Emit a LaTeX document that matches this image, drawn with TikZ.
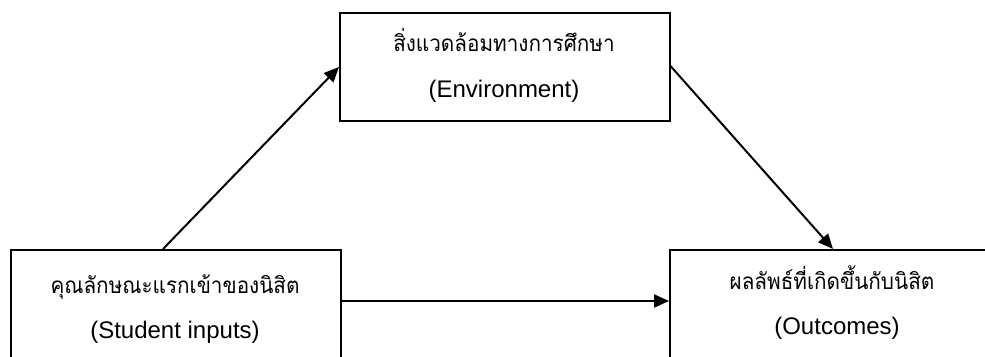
\documentclass[tikz,border=0pt]{standalone}
\usepackage{fontspec}
\setmainfont{Liberation Sans}
\newfontfamily\thaifont[Script=Thai]{Loma}
\usetikzlibrary{arrows.meta}
\begin{document}
\begin{tikzpicture}[x=1pt,y=-1pt,
  box/.style={draw,line width=1.5pt,rectangle,inner sep=0pt,anchor=north west},
  thaitxt/.style={font=\thaifont\fontsize{22.5}{27}\selectfont,anchor=base,inner sep=0pt,xscale=0.92},
  engtxt/.style={font=\fontsize{24}{29}\selectfont,anchor=base,inner sep=0pt},
  conn/.style={line width=2pt,-{Triangle[length=15pt,width=13pt]}}]
\useasboundingbox (0,0) rectangle (985,356);
\clip (0,0) rectangle (985,356);
\fill[white] (0,0) rectangle (985,356);
\node[box,minimum width=330pt,minimum height=160pt] (left) at (10,249) {};
\node[box,minimum width=330pt,minimum height=108pt] (top) at (339,12) {};
\node[box,minimum width=400pt,minimum height=160pt] (right) at (669,249) {};
\node[thaitxt] (t1) at (175,293) {คุณลักษณะแรกเข้าของนิสิต};
\node[engtxt] (e1) at (175,338) {(Student inputs)};
\node[thaitxt] (t2) at (504,51) {สิ่งแวดล้อมทางการศึกษา};
\node[engtxt] (e2) at (504,97) {(Environment)};
\node[thaitxt] (t3) at (832,289) {ผลลัพธ์ที่เกิดขึ้นกับนิสิต};
\node[engtxt] (e3) at (837,334) {(Outcomes)};
\coordinate (a1s) at ([xshift=153pt]left.north west);
\coordinate (a1e) at ([yshift=-55pt]top.north west);
\draw[conn] (a1s) -- (a1e);
\coordinate (a2s) at ([yshift=-54pt]top.north east);
\coordinate (a2e) at ([xshift=164pt]right.north west);
\draw[conn] (a2s) -- (a2e);
\coordinate (a3s) at ([yshift=-52pt]left.north east);
\draw[conn] (a3s) -- (a3s -| right.west);
\end{tikzpicture}
\end{document}
